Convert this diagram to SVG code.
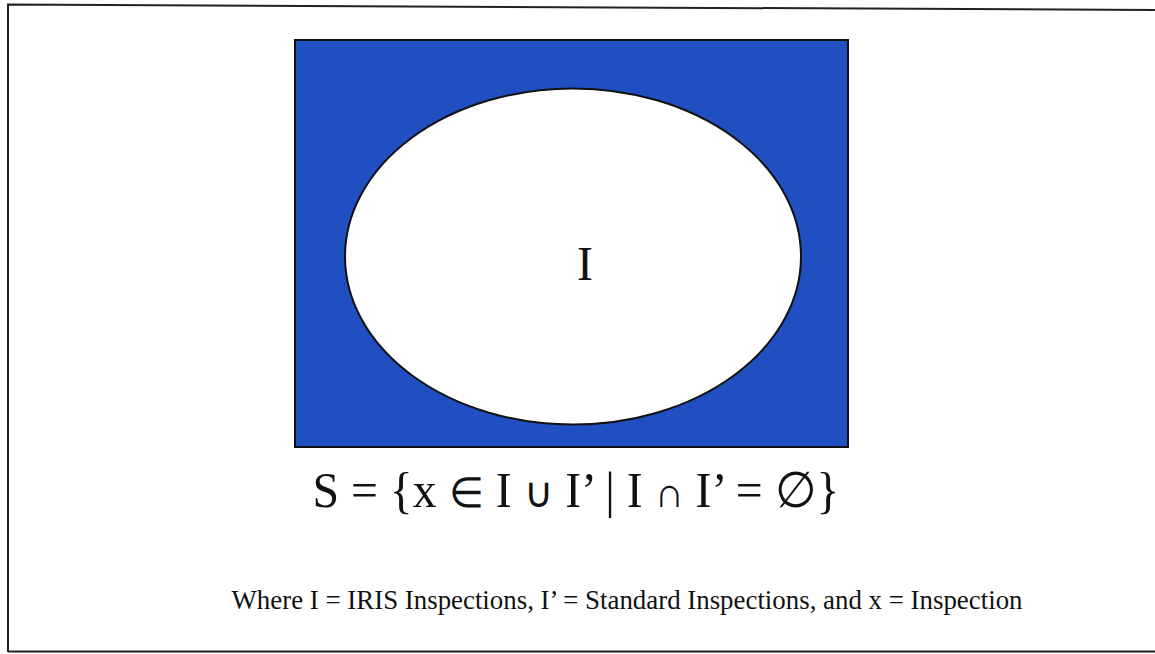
<svg xmlns="http://www.w3.org/2000/svg" width="1155" height="654" viewBox="0 0 1155 654">
<style>
text{font-family:"Liberation Serif","Times New Roman",serif;fill:#111}
.sym{font-size:42px}
</style>
<rect width="1155" height="654" fill="#ffffff"/>
<path d="M8,652 L8,4.5 L1155,10" fill="none" stroke="#222" stroke-width="2"/>
<path d="M8,651.5 L1155,651.5" fill="none" stroke="#222" stroke-width="2"/>
<g id="universe">
<rect x="295" y="40" width="553" height="407" fill="#1f4fc0" stroke="#111" stroke-width="2"/>
</g>
<g id="setI">
<ellipse cx="573" cy="256.5" rx="228" ry="168" fill="#ffffff" stroke="#111" stroke-width="2"/>
<text x="585" y="280" font-size="48" text-anchor="middle">I</text>
</g>
<g id="connectors"></g>
<text x="576" y="507" font-size="50" text-anchor="middle" textLength="527" lengthAdjust="spacingAndGlyphs">S = {x <tspan class="sym">∈</tspan> I <tspan class="sym">∪</tspan> I’ | I <tspan class="sym">∩</tspan> I’ = ∅}</text>
<text x="627" y="609" font-size="28" text-anchor="middle" textLength="791" lengthAdjust="spacingAndGlyphs">Where I = IRIS Inspections, I’ = Standard Inspections, and x = Inspection</text>
</svg>
